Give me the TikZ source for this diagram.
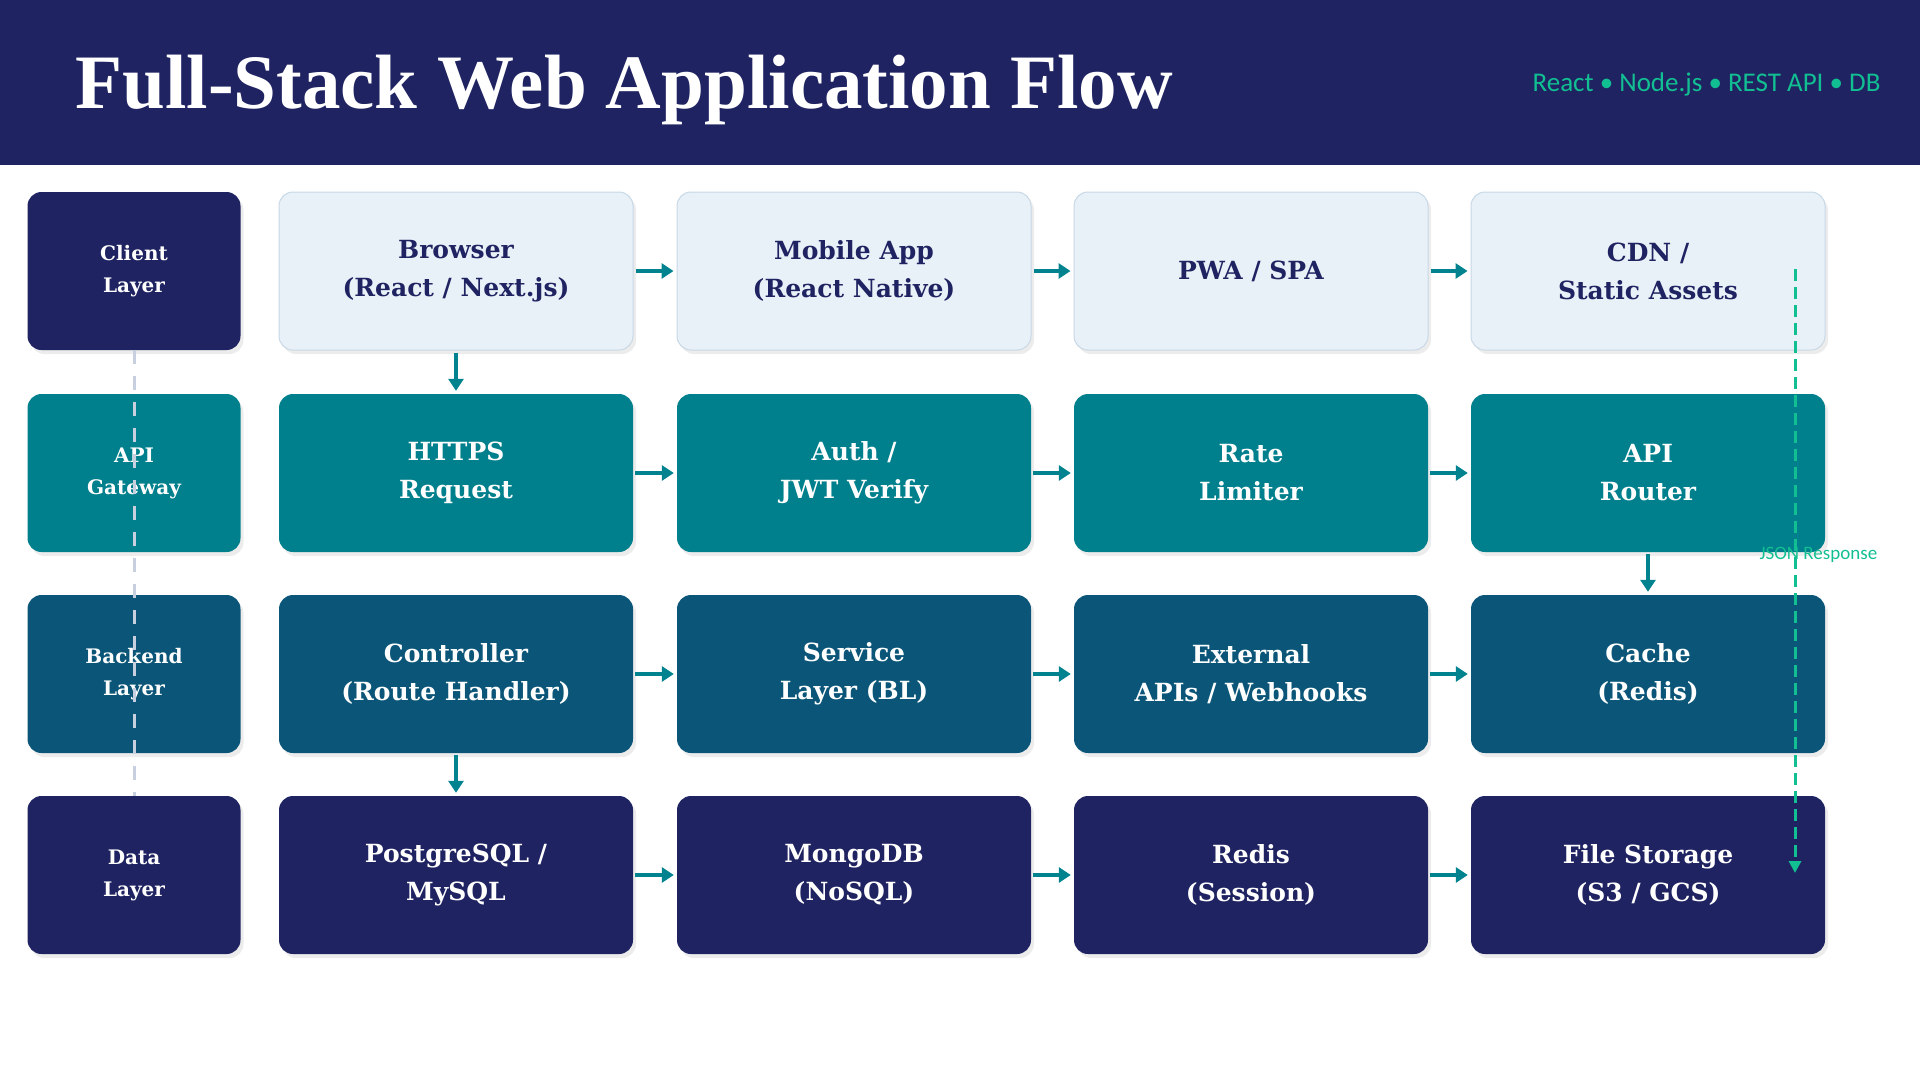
\documentclass[tikz,border=0pt]{standalone}
\usepackage{fontspec}
\setmainfont{Liberation Serif}
\newfontfamily\subf{Carlito}
\newfontfamily\boxf{DejaVu Serif}
\usetikzlibrary{shadows,arrows.meta}
\definecolor{navy}{HTML}{1F2361}
\definecolor{tealc}{HTML}{007F8C}
\definecolor{backc}{HTML}{0B5678}
\definecolor{lightc}{HTML}{E8F1F8}
\definecolor{lightb}{HTML}{C8D8E6}
\definecolor{arr}{HTML}{00838F}
\definecolor{green}{HTML}{12BF92}
\definecolor{grayd}{HTML}{C8D0E0}
\begin{document}
\begin{tikzpicture}[x=1pt,y=-1pt,
  box/.style={rounded corners=14pt,minimum width=354pt,minimum height=158pt,align=center,
    font=\boxf\fontsize{25}{38}\selectfont\bfseries,text=white,
    drop shadow={shadow xshift=3pt,shadow yshift=-4pt,opacity=0.15}},
  lab/.style={box,minimum width=213pt,font=\boxf\fontsize{20}{32}\selectfont\bfseries},
  cl/.style={box,fill=lightc,draw=lightb,line width=1pt,text=navy},
  ap/.style={box,fill=tealc},
  be/.style={box,fill=backc},
  da/.style={box,fill=navy},
  a/.style={-{Triangle[length=12pt,width=15pt]},line width=4pt,draw=arr,shorten >=1pt}]
\useasboundingbox (0,0) rectangle (1920,1080);
\fill[navy] (0,0) rectangle (1920,165);
\node[anchor=west,text=white,font=\fontsize{77}{84}\selectfont\bfseries] (title) at (72,90) {Full-Stack Web Application Flow};
\node[anchor=east,text=green,font=\subf\fontsize{27}{30}\selectfont] (sub) at (1884,84) {React • Node.js • REST API • DB};
% layer labels
\node[lab,fill=navy] (l1) at (134,271) {Client\\Layer};
\node[lab,fill=tealc] (l2) at (134,473) {API\\Gateway};
\node[lab,fill=backc] (l3) at (134,674) {Backend\\Layer};
\node[lab,fill=navy] (l4) at (134,875) {Data\\Layer};
% row 1
\node[cl] (c1) at (456,271) {Browser\\(React / Next.js)};
\node[cl] (c2) at (854,271) {Mobile App\\(React Native)};
\node[cl] (c3) at (1251,271) {PWA / SPA};
\node[cl] (c4) at (1648,271) {CDN /\\Static Assets};
% row 2
\node[ap] (a1) at (456,473) {HTTPS\\Request};
\node[ap] (a2) at (854,473) {Auth /\\JWT Verify};
\node[ap] (a3) at (1251,473) {Rate\\Limiter};
\node[ap] (a4) at (1648,473) {API\\Router};
% row 3
\node[be] (b1) at (456,674) {Controller\\(Route Handler)};
\node[be] (b2) at (854,674) {Service\\Layer (BL)};
\node[be] (b3) at (1251,674) {External\\APIs / Webhooks};
\node[be] (b4) at (1648,674) {Cache\\(Redis)};
% row 4
\node[da] (d1) at (456,875) {PostgreSQL /\\MySQL};
\node[da] (d2) at (854,875) {MongoDB\\(NoSQL)};
\node[da] (d3) at (1251,875) {Redis\\(Session)};
\node[da] (d4) at (1648,875) {File Storage\\(S3 / GCS)};
% arrows
\foreach \r in {c,a,b,d}{
  \draw[a] ([xshift=2pt]\r1.east) -- ([xshift=-2pt]\r2.west);
  \draw[a] ([xshift=2pt]\r2.east) -- ([xshift=-2pt]\r3.west);
  \draw[a] ([xshift=2pt]\r3.east) -- ([xshift=-2pt]\r4.west);
}
\draw[a] ([yshift=-2pt]c1.south) -- ([yshift=2pt]a1.north);
\draw[a] ([yshift=-2pt]a4.south) -- ([yshift=2pt]b4.north);
\draw[a] ([yshift=-2pt]b1.south) -- ([yshift=2pt]d1.north);
% layer dashed line
\draw[grayd,line width=3pt,dash pattern=on 14pt off 12pt] (l1.south) -- (l4.north);
% json response
\coordinate (js) at (1795,269);
\coordinate (je) at (1795,873);
\draw[green,line width=3pt,dash pattern=on 12pt off 6pt,-{Triangle[length=12pt,width=12pt]}] (js) -- (je);
\node[text=green,font=\subf\fontsize{19}{20}\selectfont,anchor=west] (jl) at (1756,555) {JSON Response};
\end{tikzpicture}
\end{document}
